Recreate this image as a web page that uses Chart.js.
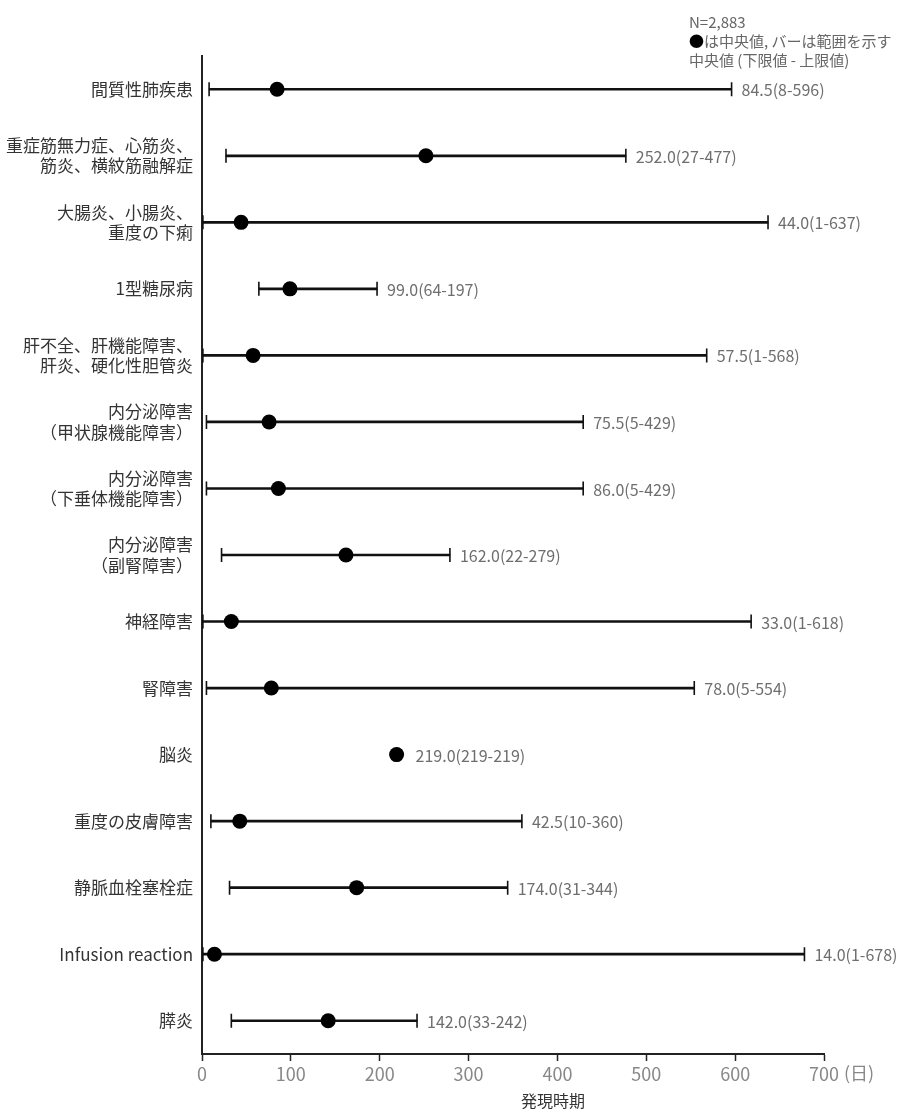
<!DOCTYPE html>
<html lang="ja">
<head>
<meta charset="utf-8">
<title>発現時期</title>
<script src="https://cdn.jsdelivr.net/npm/chart.js@4"></script>
<style>
    html, body { margin: 0; padding: 0; background: #fff; }
    #wrap { position: relative; width: 916px; height: 1109px; }
    #note {
        position: absolute; left: 689px; top: 12px;
        font: 15px/19px "Noto Sans CJK JP", "Noto Sans", sans-serif;
        color: #666; white-space: nowrap;
    }
    #note .dot { color: #000; }
</style>
</head>
<body>
<div id="wrap">
    <canvas id="chart"></canvas>
    <div id="note">N=2,883<br><span class="dot">●</span>は中央値, バーは範囲を示す<br>中央値 (下限値 - 上限値)</div>
</div>
<script>
const categories = [
    '間質性肺疾患',
    ['重症筋無力症、心筋炎、', '筋炎、横紋筋融解症'],
    ['大腸炎、小腸炎、', '重度の下痢'],
    '1型糖尿病',
    ['肝不全、肝機能障害、', '肝炎、硬化性胆管炎'],
    ['内分泌障害', '（甲状腺機能障害）'],
    ['内分泌障害', '（下垂体機能障害）'],
    ['内分泌障害', '（副腎障害）'],
    '神経障害',
    '腎障害',
    '脳炎',
    '重度の皮膚障害',
    '静脈血栓塞栓症',
    'Infusion reaction',
    '膵炎'
];
const medians = [84.5, 252.0, 44.0, 99.0, 57.5, 75.5, 86.0, 162.0, 33.0, 78.0, 219.0, 42.5, 174.0, 14.0, 142.0];
const lows    = [8, 27, 1, 64, 1, 5, 5, 22, 1, 5, 219, 10, 31, 1, 33];
const highs   = [596, 477, 637, 197, 568, 429, 429, 279, 618, 554, 219, 360, 344, 678, 242];
const xTicks  = [0, 100, 200, 300, 400, 500, 600, 700];

const FONT = '"Noto Sans CJK JP", "Noto Sans", sans-serif';

const ranges = lows.map((lo, i) => [lo, highs[i]]);

// value labels, "(日)" unit and the axis title
const annotate = {
    id: 'annotate',
    afterDraw(chart) {
        const { ctx, chartArea } = chart;
        const x = chart.scales.x, y = chart.scales.y;
        ctx.save();
        ctx.font = '16px ' + FONT;
        ctx.fillStyle = '#6e6e6e';
        ctx.textBaseline = 'middle';
        ctx.textAlign = 'left';
        medians.forEach((m, i) => {
            const lo = lows[i], hi = highs[i];
            const px = lo === hi ? x.getPixelForValue(m) + 19 : x.getPixelForValue(hi) + 10;
            ctx.fillText(m.toFixed(1) + '(' + lo + '-' + hi + ')', px, y.getPixelForValue(i) + 1);
        });

        ctx.font = '18px ' + FONT;
        ctx.fillStyle = '#888';
        ctx.fillText('(日)', x.getPixelForValue(700) + 20, chartArea.bottom + 19);

        ctx.font = '16px ' + FONT;
        ctx.fillStyle = '#333';
        ctx.textAlign = 'center';
        ctx.fillText('発現時期', x.getPixelForValue(395), chartArea.bottom + 47);
        ctx.restore();
    }
};

new Chart(document.getElementById('chart'), {
    type: 'bar',
    data: {
        labels: categories,
        datasets: [
            {
                type: 'line',
                indexAxis: 'y',
                data: medians,
                showLine: false,
                pointRadius: 7.5,
                pointBorderWidth: 0,
                pointBackgroundColor: '#000',
                pointBorderColor: '#000',
                order: 0
            },
            {
                type: 'line',
                indexAxis: 'y',
                data: lows,
                showLine: false,
                pointStyle: 'line',
                pointRotation: 90,
                pointRadius: 7,
                pointBorderWidth: 1.6,
                pointBorderColor: '#111',
                order: 1
            },
            {
                type: 'line',
                indexAxis: 'y',
                data: highs,
                showLine: false,
                pointStyle: 'line',
                pointRotation: 90,
                pointRadius: 7,
                pointBorderWidth: 1.6,
                pointBorderColor: '#111',
                order: 1
            },
            {
                type: 'bar',
                indexAxis: 'y',
                data: ranges,
                backgroundColor: '#111',
                barThickness: 2,
                order: 2
            }
        ]
    },
    options: {
        indexAxis: 'y',
        responsive: true,
        maintainAspectRatio: false,
        animation: false,
        layout: { padding: { top: 56, right: 92, left: 0, bottom: 0 } },
        plugins: {
            legend: { display: false },
            tooltip: { enabled: false }
        },
        scales: {
            x: {
                type: 'linear',
                min: 0,
                max: 700,
                afterBuildTicks: s => { s.ticks = xTicks.map(v => ({ value: v })); },
                afterFit: s => { s.height = 55; },
                border: { display: true, color: '#222', width: 2 },
                grid: { drawOnChartArea: false, drawTicks: true, tickLength: 7, tickColor: '#222', tickWidth: 1.5 },
                ticks: { font: { family: FONT, size: 18 }, color: '#888', padding: 2 }
            },
            y: {
                type: 'category',
                offset: true,
                afterFit: s => { s.width = 202; },
                border: { display: true, color: '#222', width: 2 },
                grid: { display: false, drawTicks: false },
                ticks: { font: { family: FONT, size: 17, lineHeight: 1.2 }, color: '#333', padding: 9 }
            }
        }
    },
    plugins: [annotate]
});
</script>
</body>
</html>
